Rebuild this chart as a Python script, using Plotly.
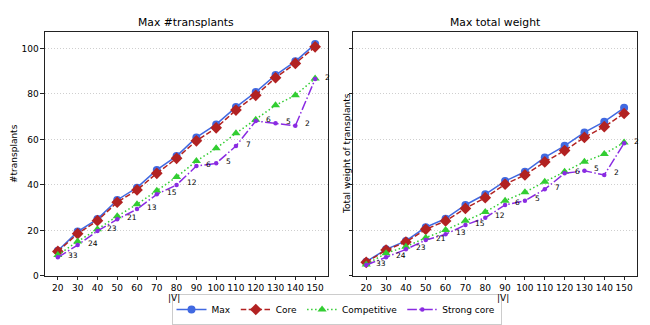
import plotly.graph_objects as go

V = [20, 30, 40, 50, 60, 70, 80, 90, 100, 110, 120, 130, 140, 150]

# Left panel: #transplants
max_n = [11.1, 19.5, 25.0, 33.4, 38.8, 46.6, 52.7, 60.9, 66.6, 74.2, 80.8, 88.3, 94.3, 101.9]
core_n = [10.8, 18.6, 24.3, 32.4, 37.8, 45.1, 51.7, 59.4, 65.1, 72.9, 79.4, 87.1, 93.4, 100.7]
comp_n = [9.2, 15.2, 20.5, 26.3, 31.5, 37.5, 43.5, 50.5, 56.1, 62.7, 68.7, 75.0, 79.4, 86.8]
strong_n = [8.2, 13.6, 19.8, 24.9, 29.4, 35.9, 40.0, 48.3, 49.5, 57.1, 68.1, 67.1, 66.0, 86.5]

# Right panel: total weight
max_w = [6.3, 11.7, 15.4, 21.4, 25.2, 31.2, 35.9, 41.7, 45.8, 52.1, 57.2, 63.1, 67.8, 73.9]
core_w = [6.0, 11.4, 14.9, 20.5, 24.2, 29.7, 34.4, 40.3, 44.4, 50.1, 55.1, 60.9, 65.6, 71.4]
comp_w = [5.1, 10.0, 12.9, 16.8, 20.2, 24.3, 28.1, 33.1, 36.8, 41.4, 45.8, 50.2, 53.6, 58.7]
strong_w = [4.8, 8.2, 11.7, 15.8, 18.3, 22.4, 25.6, 31.2, 33.1, 38.1, 45.1, 46.2, 44.4, 58.3]

# Strong core count labels
strong_labels = ["33", "24", "23", "21", "13", "15", "12", "6", "5", "7", "6", "5", "2", "2"]

series_names = ["Max", "Core", "Competitive", "Strong core"]
colors = ["#4169E1", "#B22222", "#32CD32", "#8A2BE2"]
dashes = ["solid", "5.5px,2.4px", "1.5px,2.5px", "9.6px,2.4px,1.5px,2.4px"]
symbols = ["circle", "diamond", "triangle-up", "circle"]
msizes = [8, 9, 8, 4.5]

FONT = "DejaVu Sans"
W, H = 650, 325
fig = go.Figure()

panels = [
    ("x", "y", [max_n, core_n, comp_n, strong_n]),
    ("x2", "y2", [max_w, core_w, comp_w, strong_w]),
]
for pi, (xa, ya, data) in enumerate(panels):
    for si in range(4):
        fig.add_trace(go.Scatter(
            x=V, y=data[si], xaxis=xa, yaxis=ya, mode="lines+markers",
            name=series_names[si], showlegend=(pi == 0), legendgroup=series_names[si],
            line=dict(color=colors[si], width=1.5, dash=dashes[si]),
            marker=dict(symbol=symbols[si], size=msizes[si], color=colors[si]),
            cliponaxis=False,
        ))
    for xv, yv, lab in zip(V, data[3], strong_labels):
        fig.add_annotation(x=xv, y=yv, xref=xa, yref=ya, text=lab, showarrow=False,
                           xanchor="left", yanchor="middle", xshift=8, yshift=2,
                           font=dict(size=7.5, color="black", family=FONT))

axis_common = dict(
    showline=True, linecolor="#222222", linewidth=1, mirror=True,
    ticks="outside", ticklen=3.5, tickcolor="#222222",
    tickfont=dict(size=9, color="black", family=FONT),
    zeroline=False, automargin=False,
)
xcommon = dict(axis_common, range=[13.5, 156.5], tickvals=V, showgrid=False, tickangle=0)
ycommon = dict(axis_common, range=[0, 107.2], tickvals=[0, 20, 40, 60, 80, 100],
               showgrid=True, gridcolor="#cfcfcf", griddash="1px,2px", gridwidth=0.8)

fig.update_layout(
    width=W, height=H,
    margin=dict(l=0, r=0, t=0, b=0),
    paper_bgcolor="white", plot_bgcolor="white",
    font=dict(family=FONT, color="black"),
    hovermode=False,
    xaxis=dict(xcommon, domain=[0.0692, 0.5046], anchor="y"),
    xaxis2=dict(xcommon, domain=[0.5436, 0.98], anchor="y2"),
    yaxis=dict(ycommon, domain=[0.1508, 0.9015], anchor="x"),
    yaxis2=dict(ycommon, domain=[0.1508, 0.9015], anchor="x2", matches="y", showticklabels=False),
    legend=dict(orientation="h", x=0.5177, xanchor="center", y=0.0, yanchor="bottom",
                bordercolor="#cccccc", borderwidth=1, bgcolor="white",
                font=dict(size=9, family=FONT), itemwidth=30, tracegroupgap=0),
    showlegend=True,
)

def px_x(p):
    return p / W

def px_y(p):
    return 1 - p / H

# titles
fig.add_annotation(text="Max #transplants", x=(0.0692 + 0.5046) / 2, y=px_y(22), xref="paper", yref="paper",
                   showarrow=False, xanchor="center", yanchor="middle", font=dict(size=10.8, family=FONT))
fig.add_annotation(text="Max total weight", x=(0.5436 + 0.98) / 2, y=px_y(22), xref="paper", yref="paper",
                   showarrow=False, xanchor="center", yanchor="middle", font=dict(size=10.8, family=FONT))
# axis titles
for xp in (173.5, 503):
    fig.add_annotation(text="|V|", x=px_x(xp), y=px_y(298), xref="paper", yref="paper",
                       showarrow=False, xanchor="center", yanchor="middle", font=dict(size=9, family=FONT))
fig.add_annotation(text="#transplants", x=px_x(14), y=px_y(154), xref="paper", yref="paper", textangle=-90,
                   showarrow=False, xanchor="center", yanchor="middle", font=dict(size=9, family=FONT))
fig.add_annotation(text="Total weight of transplants", x=px_x(347), y=px_y(154), xref="paper", yref="paper",
                   textangle=-90, showarrow=False, xanchor="center", yanchor="middle",
                   font=dict(size=9, family=FONT))

fig.write_html("out.html", config={"displayModeBar": False},
               post_script="document.body.style.margin='0';document.body.style.overflow='hidden';")
